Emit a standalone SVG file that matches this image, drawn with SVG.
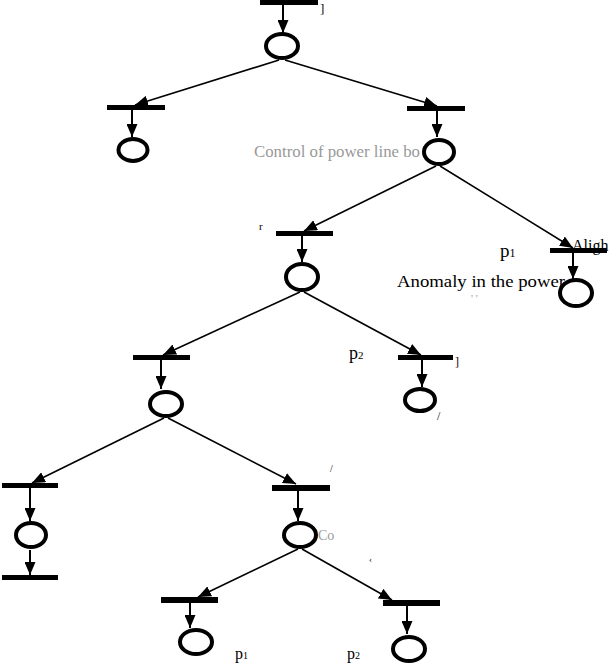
<svg xmlns="http://www.w3.org/2000/svg" width="615" height="666" viewBox="0 0 615 666">
<defs>
<marker id="ah" markerUnits="userSpaceOnUse" markerWidth="13" markerHeight="11" refX="13" refY="5.5" orient="auto">
<path d="M0,0 L13,5.5 L0,11 z" fill="#000"/>
</marker>
</defs>
<style>
.bar{fill:#000}
.pl{fill:none;stroke:#000;stroke-width:4}
.arc{stroke:#000;stroke-width:1.6;fill:none;marker-end:url(#ah)}
.vt{stroke:#000;stroke-width:2;fill:none;marker-end:url(#ah)}
.lb{font-family:"Liberation Serif","Times New Roman",serif;fill:#000}
.fr{font-family:"Liberation Serif","Times New Roman",serif;fill:#999}
</style>
<rect width="615" height="666" fill="#fff"/>
<g id="connectors">
<path class="vt" d="M283,5 L283,33"/>
<path class="arc" d="M279,60 L135,105"/>
<path class="arc" d="M285,60 L437,106"/>
<path class="vt" d="M132,110 L132,137"/>
<path class="vt" d="M437,111 L437,137"/>
<path class="arc" d="M436,166 L304,231"/>
<path class="arc" d="M440,166 L573,248"/>
<path class="vt" d="M302,236 L302,262"/>
<path class="vt" d="M573,253 L573,279"/>
<path class="arc" d="M300,292 L163,355"/>
<path class="arc" d="M304,292 L421,355"/>
<path class="vt" d="M161,360 L161,389"/>
<path class="vt" d="M422,360 L422,387"/>
<path class="arc" d="M164,418 L32,483"/>
<path class="arc" d="M168,418 L296,484"/>
<path class="vt" d="M30,488 L30,521"/>
<path class="vt" d="M30,550 L30,575"/>
<path class="vt" d="M298,491 L298,521"/>
<path class="arc" d="M298,549 L198,597"/>
<path class="arc" d="M302,549 L392,600"/>
<path class="vt" d="M190,603 L190,628"/>
<path class="vt" d="M407,606 L407,634"/>
</g>
<g id="T0"><rect class="bar" x="260" y="0" width="58" height="5"/></g>
<g id="P0"><ellipse class="pl" cx="282" cy="46" rx="16" ry="12"/></g>
<g id="T1L"><rect class="bar" x="107" y="105" width="58" height="5"/></g>
<g id="P1L"><ellipse class="pl" cx="133" cy="150" rx="14.5" ry="11"/></g>
<g id="T1R"><rect class="bar" x="407" y="106" width="58" height="5"/></g>
<g id="P1R"><ellipse class="pl" cx="439" cy="152" rx="15" ry="12"/></g>
<g id="T2L"><rect class="bar" x="276" y="231" width="57" height="5"/></g>
<g id="P2"><ellipse class="pl" cx="302" cy="277" rx="16" ry="13"/></g>
<g id="T2R"><rect class="bar" x="550" y="248" width="57" height="5"/></g>
<g id="P3"><ellipse class="pl" cx="576" cy="293" rx="16" ry="13"/></g>
<g id="T3L"><rect class="bar" x="133" y="355" width="57" height="5"/></g>
<g id="P4"><ellipse class="pl" cx="166" cy="404" rx="16" ry="12"/></g>
<g id="T3R"><rect class="bar" x="398" y="355" width="55" height="5"/></g>
<g id="P5"><ellipse class="pl" cx="420" cy="400" rx="15" ry="11"/></g>
<g id="T4L"><rect class="bar" x="2" y="483" width="56" height="5"/></g>
<g id="P6"><ellipse class="pl" cx="31" cy="535" rx="15" ry="12"/></g>
<g id="T6"><rect class="bar" x="2" y="575" width="56" height="5"/></g>
<g id="T4R"><rect class="bar" x="272" y="485" width="58" height="6"/></g>
<g id="P7"><ellipse class="pl" cx="300" cy="535" rx="16" ry="12"/></g>
<g id="T5L"><rect class="bar" x="161" y="597" width="57" height="6"/></g>
<g id="P8"><ellipse class="pl" cx="196" cy="642" rx="16" ry="12"/></g>
<g id="T5R"><rect class="bar" x="383" y="600" width="57" height="6"/></g>
<g id="P9"><ellipse class="pl" cx="409" cy="649" rx="16" ry="12"/></g>
<g id="labels">
<text class="lb" x="320" y="13" font-size="13">]</text>
<text class="fr" x="254" y="157" font-size="16" textLength="166" lengthAdjust="spacingAndGlyphs">Control of power line bo</text>
<text class="lb" x="259" y="230" font-size="11">r</text>
<text class="lb" x="500" y="257" font-size="19">p<tspan font-size="12">1</tspan></text>
<text class="lb" x="572" y="251" font-size="16">Aligh</text>
<text class="lb" x="397" y="287" font-size="17" textLength="168" lengthAdjust="spacingAndGlyphs">Anomaly in the power</text>
<text class="fr" x="471" y="302" font-size="11">' '</text>
<text class="lb" x="349" y="359" font-size="18">p<tspan font-size="11">2</tspan></text>
<text class="lb" x="455" y="366" font-size="12">]</text>
<text class="lb" x="437" y="420" font-size="12">/</text>
<text class="lb" x="330" y="472" font-size="10">/</text>
<text class="fr" x="318" y="540" font-size="14">Co</text>
<text class="lb" x="369" y="562" font-size="9">‹</text>
<text class="lb" x="235" y="659" font-size="16">p<tspan font-size="10">1</tspan></text>
<text class="lb" x="347" y="659" font-size="16">p<tspan font-size="10">2</tspan></text>
</g>
</svg>
